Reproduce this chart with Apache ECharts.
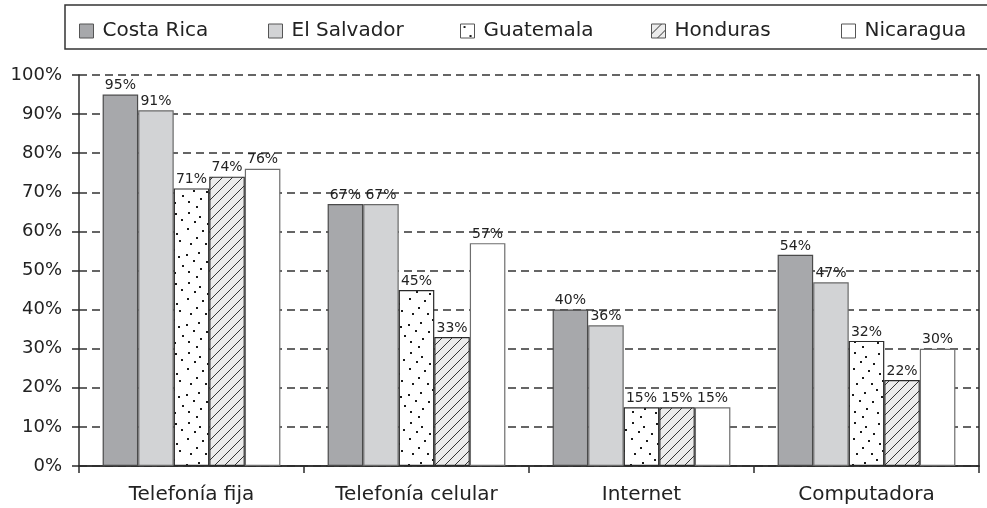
<!DOCTYPE html>
<html>
<head>
<meta charset="utf-8">
<script src="https://cdn.jsdelivr.net/npm/echarts@6/dist/echarts.min.js"></script>
<style>
  html, body { margin: 0; padding: 0; background: #ffffff; }
  #chart { width: 987px; height: 508px; }
</style>
</head>
<body>
<div id="chart"></div>
<script>
// Acceso a tecnologías de información por país (porcentaje de hogares)
const categories = ['Telefonía fija', 'Telefonía celular', 'Internet', 'Computadora'];
const countries = ['Costa Rica', 'El Salvador', 'Guatemala', 'Honduras', 'Nicaragua'];
const costaRica  = [95, 67, 40, 54];
const elSalvador = [91, 67, 36, 47];
const guatemala  = [71, 45, 15, 32];
const honduras   = [74, 33, 15, 22];
const nicaragua  = [76, 57, 15, 30];
const yTicks = [0, 10, 20, 30, 40, 50, 60, 70, 80, 90, 100];

const FONT = 'DejaVu Sans';

// Stippled fill tile
function dotPattern() {
  const c = document.createElement('canvas');
  c.width = 37; c.height = 70;
  const g = c.getContext('2d');
  g.fillStyle = '#ffffff';
  g.fillRect(0, 0, c.width, c.height);
  g.fillStyle = '#1a1a1a';
  const dots = [
    [3,2],[14,6],[27,3],[9,11],[22,13],[33,9],[2,18],[17,20],[28,23],
    [11,27],[31,30],[5,33],[20,33],[25,39],[1,44],[13,42],[30,46],[8,50],
    [21,51],[34,55],[15,58],[3,61],[26,62],[11,66]
  ];
  dots.forEach(function (d) { g.fillRect(d[0], d[1], 2, 2); });
  return c;
}

// Diagonal hatch tile
function hatchPattern() {
  const s = 10;
  const c = document.createElement('canvas');
  c.width = s; c.height = s;
  const g = c.getContext('2d');
  g.fillStyle = '#ececec';
  g.fillRect(0, 0, s, s);
  g.strokeStyle = '#333333';
  g.lineWidth = 1;
  g.beginPath();
  g.moveTo(0, s); g.lineTo(s, 0);
  g.moveTo(-1, 1); g.lineTo(1, -1);
  g.moveTo(s - 1, s + 1); g.lineTo(s + 1, s - 1);
  g.stroke();
  return c;
}

const fills = [
  { color: '#a7a8ab', border: '#4a4a4a' },
  { color: '#d2d3d5', border: '#6a6a6a' },
  { color: { image: dotPattern(), repeat: 'repeat' }, border: '#2a2a2a' },
  { color: { image: hatchPattern(), repeat: 'repeat' }, border: '#2a2a2a' },
  { color: '#ffffff', border: '#6e6e6e' }
];
const seriesValues = [costaRica, elSalvador, guatemala, honduras, nicaragua];
const legendLeft = [79, 268, 460, 651, 841];

const chart = echarts.init(document.getElementById('chart'), null, { renderer: 'canvas' });

const option = {
  animation: false,
  backgroundColor: '#ffffff',
  textStyle: { fontFamily: FONT },
  grid: { left: 79, right: 8, top: 75, bottom: 42, containLabel: false },
  legend: countries.map(function (name, i) {
    return {
      data: [name],
      left: legendLeft[i],
      top: 21,
      padding: 0,
      itemWidth: 14,
      itemHeight: 14,
      itemGap: 9,
      icon: 'rect',
      selectedMode: false,
      itemStyle: { borderWidth: 1, borderColor: '#555555' },
      textStyle: { fontFamily: FONT, fontSize: 20, color: '#222222', padding: [1, 0, 0, 4] }
    };
  }),
  graphic: [{
    type: 'rect',
    shape: { x: 65, y: 5, width: 930, height: 44 },
    style: { fill: 'none', stroke: '#333333', lineWidth: 1.5 },
    z: -1
  }],
  xAxis: [{
    type: 'category',
    data: categories,
    boundaryGap: true,
    axisLine: { show: true, lineStyle: { color: '#2b2b2b', width: 1.5 } },
    axisTick: { show: true, alignWithLabel: false, length: 7, lineStyle: { color: '#2b2b2b', width: 1.5 } },
    axisLabel: { fontFamily: FONT, fontSize: 20, color: '#222222', margin: 19 },
    splitLine: { show: false }
  }, {
    type: 'category',
    position: 'top',
    data: categories,
    axisLine: { show: true, lineStyle: { color: '#2b2b2b', width: 1.5 } },
    axisTick: { show: false },
    axisLabel: { show: false }
  }],
  yAxis: [{
    type: 'value',
    min: yTicks[0],
    max: yTicks[yTicks.length - 1],
    interval: yTicks[1] - yTicks[0],
    axisLine: { show: true, lineStyle: { color: '#2b2b2b', width: 1.5 } },
    axisTick: { show: true, length: 7, lineStyle: { color: '#2b2b2b', width: 1.5 } },
    axisLabel: { fontFamily: FONT, fontSize: 18, color: '#222222', margin: 17, formatter: '{value}%' },
    splitLine: { show: true, lineStyle: { color: '#333333', width: 1.5, type: [8, 5] } }
  }, {
    type: 'value',
    position: 'right',
    min: yTicks[0],
    max: yTicks[yTicks.length - 1],
    interval: yTicks[1] - yTicks[0],
    axisLine: { show: true, lineStyle: { color: '#2b2b2b', width: 1.5 } },
    axisTick: { show: false },
    axisLabel: { show: false },
    splitLine: { show: false }
  }],
  series: countries.map(function (name, i) {
    return {
      name: name,
      type: 'bar',
      data: seriesValues[i],
      barGap: '0%',
      barCategoryGap: '21%',
      itemStyle: { color: fills[i].color, borderColor: fills[i].border, borderWidth: 1.2 },
      label: {
        show: true,
        position: 'top',
        distance: 2,
        fontFamily: FONT,
        fontSize: 14,
        color: '#222222',
        formatter: '{c}%'
      }
    };
  })
};

chart.setOption(option);
</script>
</body>
</html>
